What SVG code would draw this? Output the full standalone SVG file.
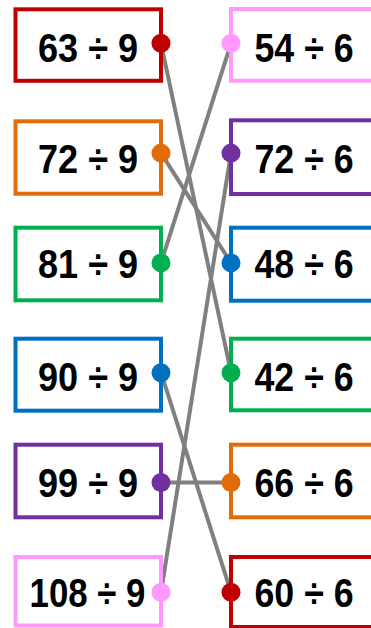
<svg xmlns="http://www.w3.org/2000/svg" width="371" height="628" viewBox="0 0 371 628">
<style>
.box{fill:#fff;stroke-width:4}
.t{font-family:"Liberation Sans",Arial,sans-serif;font-weight:bold;font-size:41px;fill:#000;text-anchor:middle}
.c{stroke:#808080;stroke-width:4;fill:none;stroke-linecap:round}
.red{stroke:#C00000}.redf{fill:#C00000}
.org{stroke:#E36C0A}.orgf{fill:#E36C0A}
.grn{stroke:#00B050}.grnf{fill:#00B050}
.blu{stroke:#0070C0}.bluf{fill:#0070C0}
.pur{stroke:#7030A0}.purf{fill:#7030A0}
.pnk{stroke:#FF99FF}.pnkf{fill:#FF99FF}
</style>
<rect width="371" height="628" fill="#fff"/>
<g id="connectors">
<line class="c" x1="161" y1="43.3" x2="231" y2="372.7"/>
<line class="c" x1="161" y1="153.1" x2="231" y2="262.9"/>
<line class="c" x1="161" y1="262.9" x2="231" y2="43.3"/>
<line class="c" x1="161" y1="372.7" x2="231" y2="592.3"/>
<line class="c" x1="161" y1="482.5" x2="231" y2="482.5"/>
<line class="c" x1="161" y1="592.3" x2="231" y2="153.1"/>
</g>
<g id="L1"><rect class="box red" x="15.5" y="9.3" width="145.5" height="71.5"/><text class="t" x="88" y="61.7" textLength="100" lengthAdjust="spacingAndGlyphs">63 ÷ 9</text><circle class="redf" cx="161" cy="43.3" r="9.5"/></g>
<g id="L2"><rect class="box org" x="15.5" y="121.3" width="145.5" height="72.4"/><text class="t" x="88" y="173.3" textLength="100" lengthAdjust="spacingAndGlyphs">72 ÷ 9</text><circle class="orgf" cx="161" cy="153.1" r="9.5"/></g>
<g id="L3"><rect class="box grn" x="15.5" y="227.7" width="145.5" height="72.6"/><text class="t" x="88" y="278.3" textLength="100" lengthAdjust="spacingAndGlyphs">81 ÷ 9</text><circle class="grnf" cx="161" cy="262.9" r="9.5"/></g>
<g id="L4"><rect class="box blu" x="15.5" y="338.7" width="145.5" height="72"/><text class="t" x="88" y="391" textLength="100" lengthAdjust="spacingAndGlyphs">90 ÷ 9</text><circle class="bluf" cx="161" cy="372.7" r="9.5"/></g>
<g id="L5"><rect class="box pur" x="15.5" y="444.7" width="145.5" height="72.6"/><text class="t" x="88" y="496.7" textLength="100" lengthAdjust="spacingAndGlyphs">99 ÷ 9</text><circle class="purf" cx="161" cy="482.5" r="9.5"/></g>
<g id="L6"><rect class="box pnk" x="15.5" y="557" width="145.5" height="68.5"/><text class="t" x="87.5" y="606.7" textLength="116" lengthAdjust="spacingAndGlyphs">108 ÷ 9</text><circle class="pnkf" cx="161" cy="592.3" r="9.5"/></g>
<g id="R1"><rect class="box pnk" x="231" y="9" width="150" height="71.7"/><text class="t" x="304" y="61.7" textLength="99" lengthAdjust="spacingAndGlyphs">54 ÷ 6</text><circle class="pnkf" cx="231" cy="43.3" r="9.5"/></g>
<g id="R2"><rect class="box pur" x="231" y="120.3" width="150" height="73.7"/><text class="t" x="304" y="173.3" textLength="99" lengthAdjust="spacingAndGlyphs">72 ÷ 6</text><circle class="purf" cx="231" cy="153.1" r="9.5"/></g>
<g id="R3"><rect class="box blu" x="231" y="227.7" width="150" height="73"/><text class="t" x="304" y="278.3" textLength="99" lengthAdjust="spacingAndGlyphs">48 ÷ 6</text><circle class="bluf" cx="231" cy="262.9" r="9.5"/></g>
<g id="R4"><rect class="box grn" x="231" y="338.7" width="150" height="71.6"/><text class="t" x="304" y="391" textLength="99" lengthAdjust="spacingAndGlyphs">42 ÷ 6</text><circle class="grnf" cx="231" cy="372.7" r="9.5"/></g>
<g id="R5"><rect class="box org" x="231" y="444.7" width="150" height="72.6"/><text class="t" x="304" y="496.7" textLength="99" lengthAdjust="spacingAndGlyphs">66 ÷ 6</text><circle class="orgf" cx="231" cy="482.5" r="9.5"/></g>
<g id="R6"><rect class="box red" x="231" y="557" width="150" height="70"/><text class="t" x="304" y="606.7" textLength="99" lengthAdjust="spacingAndGlyphs">60 ÷ 6</text><circle class="redf" cx="231" cy="592.3" r="9.5"/></g>
</svg>
